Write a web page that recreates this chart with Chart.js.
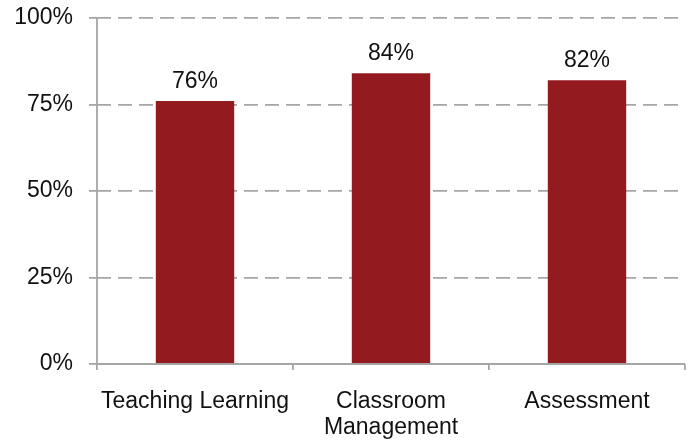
<!DOCTYPE html>
<html>
<head>
<meta charset="utf-8">
<script src="https://cdn.jsdelivr.net/npm/chart.js@4/dist/chart.umd.min.js"></script>
<style>
html,body{margin:0;padding:0;background:#fff;}
#wrap{width:691px;height:443px;}
</style>
</head>
<body>
<div id="wrap"><canvas id="c" width="691" height="443"></canvas></div>
<script>
const categories = [["Teaching Learning"], ["Classroom", "Management"], ["Assessment"]];
const values = [76, 84, 82];
const yTicks = [0, 25, 50, 75, 100];

const FONT = "'Liberation Sans', Arial, Helvetica, sans-serif";
const AXIS = '#a6a6a6';

const valueLabels = {
  id: 'valueLabels',
  afterDatasetsDraw(chart) {
    const ctx = chart.ctx;
    const meta = chart.getDatasetMeta(0);
    ctx.save();
    ctx.font = "23px " + FONT;
    ctx.fillStyle = '#111';
    ctx.textAlign = 'center';
    ctx.textBaseline = 'alphabetic';
    meta.data.forEach((bar, i) => {
      ctx.fillText(values[i] + '%', bar.x, bar.y - 13);
    });
    ctx.restore();
  }
};

const solidAxes = {
  id: 'solidAxes',
  afterDraw(chart) {
    const ctx = chart.ctx;
    const a = chart.chartArea;
    ctx.save();
    ctx.strokeStyle = AXIS;
    ctx.lineWidth = 1.8;
    ctx.setLineDash([]);
    ctx.beginPath();
    ctx.moveTo(a.left, a.top - 1);
    ctx.lineTo(a.left, a.bottom);
    ctx.lineTo(a.right, a.bottom);
    ctx.stroke();
    ctx.restore();
  }
};

new Chart(document.getElementById('c'), {
  type: 'bar',
  data: {
    labels: categories,
    datasets: [{
      data: values,
      backgroundColor: '#931a1f',
      borderWidth: 0,
      barPercentage: 0.4,
      categoryPercentage: 1.0
    }]
  },
  options: {
    responsive: false,
    animation: false,
    events: [],
    layout: { padding: { left: 0, right: 6, top: 18, bottom: 0 } },
    plugins: { legend: { display: false }, tooltip: { enabled: false } },
    scales: {
      x: {
        offset: true,
        afterFit(scale) { scale.height = 79; },
        grid: {
          offset: true,
          drawOnChartArea: false,
          drawTicks: true,
          tickLength: 6,
          color: AXIS,
          lineWidth: 1.8
        },
        border: { display: false },
        ticks: {
          color: '#111',
          font: { family: FONT, size: 23, lineHeight: 1.15 },
          padding: 18,
          maxRotation: 0,
          autoSkip: false
        }
      },
      y: {
        min: 0,
        max: 100,
        afterBuildTicks(scale) { scale.ticks = yTicks.map(v => ({ value: v })); },
        afterFit(scale) { scale.width = 97; scale.paddingTop = 0; scale.paddingBottom = 0; },
        grid: {
          color: AXIS,
          lineWidth: 1.8,
          drawTicks: true,
          tickLength: 8,
          tickBorderDash: [],
          tickColor: AXIS
        },
        border: { display: false, dash: [14, 7] },
        ticks: {
          color: '#111',
          font: { family: FONT, size: 23 },
          padding: 16,
          callback: v => v + '%'
        }
      }
    }
  },
  plugins: [valueLabels, solidAxes]
});
</script>
</body>
</html>
